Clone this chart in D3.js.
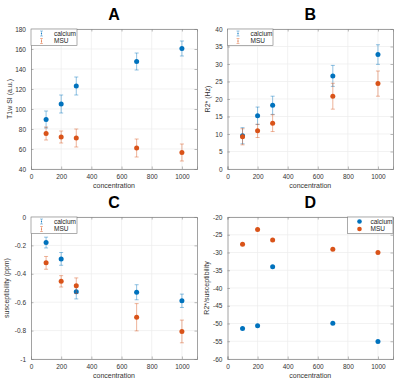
<!DOCTYPE html>
<html>
<head>
<meta charset="utf-8">
<script src="https://cdn.jsdelivr.net/npm/d3@7"></script>
<style>
  body { margin: 0; background: #fff; }
  svg { display: block; font-family: "Liberation Sans", Arial, sans-serif; }
</style>
</head>
<body>
<svg id="chart" width="400" height="388"></svg>
<script>
// concentrations shared by every panel
var concentration = [100, 200, 300, 700, 1000];
var xTicks = [0, 200, 400, 600, 800, 1000];
var seriesNames = ['calcium', 'MSU'];

// A: T1w SI
var t1Calcium = [89.5, 105, 123, 147.5, 160.5];
var t1CalciumErr = [8.5, 9, 9, 8.5, 7.5];
var t1Msu = [75.5, 72, 71, 61, 56.5];
var t1MsuErr = [6.5, 6, 9, 9, 8.5];
var t1Ticks = [40, 60, 80, 100, 120, 140, 160, 180];

// B: R2*
var r2Calcium = [9.5, 15.2, 18.2, 26.6, 32.7];
var r2CalciumErr = [2.3, 2.5, 2.6, 3.0, 2.8];
var r2Msu = [9.2, 10.9, 13.1, 20.8, 24.4];
var r2MsuErr = [2.3, 1.9, 2.4, 3.7, 3.6];
var r2Ticks = [0, 5, 10, 15, 20, 25, 30, 35, 40];

// C: susceptibility
var suscCalcium = [-0.18, -0.295, -0.527, -0.53, -0.59];
var suscCalciumErr = [0.038, 0.045, 0.05, 0.053, 0.047];
var suscMsu = [-0.323, -0.453, -0.484, -0.706, -0.806];
var suscMsuErr = [0.045, 0.04, 0.055, 0.096, 0.08];
var suscTicks = [-1, -0.8, -0.6, -0.4, -0.2, 0];

// D: R2*/susceptibility
var ratioCalcium = [-51.4, -50.6, -34.0, -49.9, -55.1];
var ratioMsu = [-27.7, -23.5, -26.5, -29.1, -30.0];
var ratioTicks = [-60, -55, -50, -45, -40, -35, -30, -25, -20];

var colors = ['#0072BD', '#D95319'];
var svg = d3.select('#chart');

function drawPanel(p) {
    var x = d3.scaleLinear().domain([0, 1100]).range([p.left, p.right]);
    var y = d3.scaleLinear().domain(p.yDomain).range([p.bottom, p.top]);
    var g = svg.append('g').attr('class', 'panel');

    //grid lines
    g.append('g').selectAll('line.gx')
        .data(xTicks.filter(function(d) { return d > 0; }))
        .join('line')
        .attr('x1', function(d) { return x(d); })
        .attr('x2', function(d) { return x(d); })
        .attr('y1', p.top).attr('y2', p.bottom)
        .attr('stroke', '#ececec').attr('stroke-width', 0.7);
    g.append('g').selectAll('line.gy')
        .data(p.yTicks)
        .join('line')
        .attr('x1', p.left).attr('x2', p.right)
        .attr('y1', function(d) { return y(d); })
        .attr('y2', function(d) { return y(d); })
        .attr('stroke', '#ececec').attr('stroke-width', 0.7);

    //axes, ticks pointing inwards like matlab
    var fmt = p.fmt || d3.format('d');
    g.append('g').attr('transform', 'translate(0,' + p.bottom + ')')
        .call(d3.axisBottom(x).tickValues(xTicks).tickSize(-2.5).tickPadding(5).tickFormat(d3.format('d')));
    g.append('g').attr('transform', 'translate(' + p.left + ',0)')
        .call(d3.axisLeft(y).tickValues(p.yTicks).tickSize(-2.5).tickPadding(5).tickFormat(fmt));
    g.append('g').attr('transform', 'translate(0,' + p.top + ')')
        .call(d3.axisTop(x).tickValues(xTicks).tickSize(-2.5).tickFormat(''));
    g.append('g').attr('transform', 'translate(' + p.right + ',0)')
        .call(d3.axisRight(y).tickValues(p.yTicks).tickSize(-2.5).tickFormat(''));
    g.selectAll('.domain').attr('stroke', '#8a8a8a').attr('stroke-width', 0.8);
    g.selectAll('.tick line').attr('stroke', '#8a8a8a').attr('stroke-width', 0.6);
    g.selectAll('.tick text').attr('fill', '#333').attr('font-size', '6.5px');

    //titles
    var cx = (p.left + p.right) / 2;
    g.append('text').text(p.title)
        .attr('x', cx).attr('y', p.top - 9)
        .attr('text-anchor', 'middle')
        .attr('font-size', '16px').attr('font-weight', 'bold').attr('fill', '#000');
    g.append('text').text('concentration')
        .attr('x', cx).attr('y', p.bottom + 19)
        .attr('text-anchor', 'middle')
        .attr('font-size', '7px').attr('fill', '#333');
    g.append('text').text(p.yLabel)
        .attr('transform', 'translate(' + p.yLabelX + ',' + (p.top + p.bottom) / 2 + ') rotate(-90)')
        .attr('text-anchor', 'middle')
        .attr('font-size', '7px').attr('fill', '#333');

    //series
    p.series.forEach(function(s, i) {
        var pts = concentration.map(function(c, j) {
            return {x: c, y: s.values[j], e: s.err ? s.err[j] : 0};
        });
        var sg = g.append('g');
        if (s.err) {
            sg.selectAll('path.err')
                .data(pts)
                .join('path')
                .attr('d', function(d) {
                    var px = x(d.x), y0 = y(d.y - d.e), y1 = y(d.y + d.e);
                    return 'M' + (px - 2) + ',' + y1 + 'H' + (px + 2) +
                        'M' + px + ',' + y1 + 'V' + y0 +
                        'M' + (px - 2) + ',' + y0 + 'H' + (px + 2);
                })
                .attr('fill', 'none')
                .attr('stroke', colors[i]).attr('stroke-opacity', 0.55)
                .attr('stroke-width', 0.8);
        }
        sg.selectAll('circle')
            .data(pts)
            .join('circle')
            .attr('cx', function(d) { return x(d.x); })
            .attr('cy', function(d) { return y(d.y); })
            .attr('r', 2.5)
            .attr('fill', colors[i]);
    });

    //legend
    var L = p.legend;
    var lg = g.append('g');
    lg.append('rect')
        .attr('x', L.x).attr('y', L.y).attr('width', L.w).attr('height', 16.5)
        .attr('fill', '#fff').attr('stroke', '#777').attr('stroke-width', 0.6);
    seriesNames.forEach(function(name, i) {
        var ly = L.y + 4.5 + i * 7.5;
        if (p.legendErr) {
            lg.append('path')
                .attr('d', 'M' + (L.x + 9) + ',' + (ly - 2.5) + 'H' + (L.x + 12) +
                    'M' + (L.x + 10.5) + ',' + (ly - 2.5) + 'V' + (ly + 2.5) +
                    'M' + (L.x + 9) + ',' + (ly + 2.5) + 'H' + (L.x + 12))
                .attr('stroke', colors[i]).attr('stroke-opacity', 0.55)
                .attr('stroke-width', 0.7).attr('fill', 'none');
            lg.append('circle')
                .attr('cx', L.x + 10.5).attr('cy', ly).attr('r', 0.6)
                .attr('fill', colors[i]);
        } else {
            lg.append('circle')
                .attr('cx', L.x + 12).attr('cy', ly).attr('r', 2.3)
                .attr('fill', colors[i]);
        }
        lg.append('text').text(name)
            .attr('x', L.x + L.tx).attr('y', ly + 2.2)
            .attr('font-size', '6.5px').attr('fill', '#222');
    });
}

drawPanel({
    title: 'A', left: 31, right: 197, top: 29, bottom: 169,
    yDomain: [40, 180], yTicks: t1Ticks, yLabel: 'T1w SI (a.u.)', yLabelX: 12,
    series: [{values: t1Calcium, err: t1CalciumErr}, {values: t1Msu, err: t1MsuErr}],
    legend: {x: 31, y: 29, w: 46, tx: 23}, legendErr: true
});
drawPanel({
    title: 'B', left: 227.5, right: 393, top: 29, bottom: 169,
    yDomain: [0, 40], yTicks: r2Ticks, yLabel: 'R2* (Hz)', yLabelX: 210,
    series: [{values: r2Calcium, err: r2CalciumErr}, {values: r2Msu, err: r2MsuErr}],
    legend: {x: 227.5, y: 29, w: 45.5, tx: 23}, legendErr: true
});
drawPanel({
    title: 'C', left: 31, right: 197, top: 217, bottom: 359,
    yDomain: [-1, 0], yTicks: suscTicks, yLabel: 'susceptibility (ppm)', yLabelX: 9,
    fmt: function(d) { return d === 0 ? '0' : d === -1 ? '-1' : d3.format('.1f')(d).replace('\u2212', '-'); },
    series: [{values: suscCalcium, err: suscCalciumErr}, {values: suscMsu, err: suscMsuErr}],
    legend: {x: 31, y: 217, w: 46, tx: 23}, legendErr: true
});
drawPanel({
    title: 'D', left: 227.5, right: 393, top: 217, bottom: 359,
    yDomain: [-60, -20], yTicks: ratioTicks, yLabel: 'R2*/susceptibility', yLabelX: 209,
    fmt: function(d) { return String(d); },
    series: [{values: ratioCalcium}, {values: ratioMsu}],
    legend: {x: 347.5, y: 217, w: 45.5, tx: 23}, legendErr: false
});
</script>
</body>
</html>
